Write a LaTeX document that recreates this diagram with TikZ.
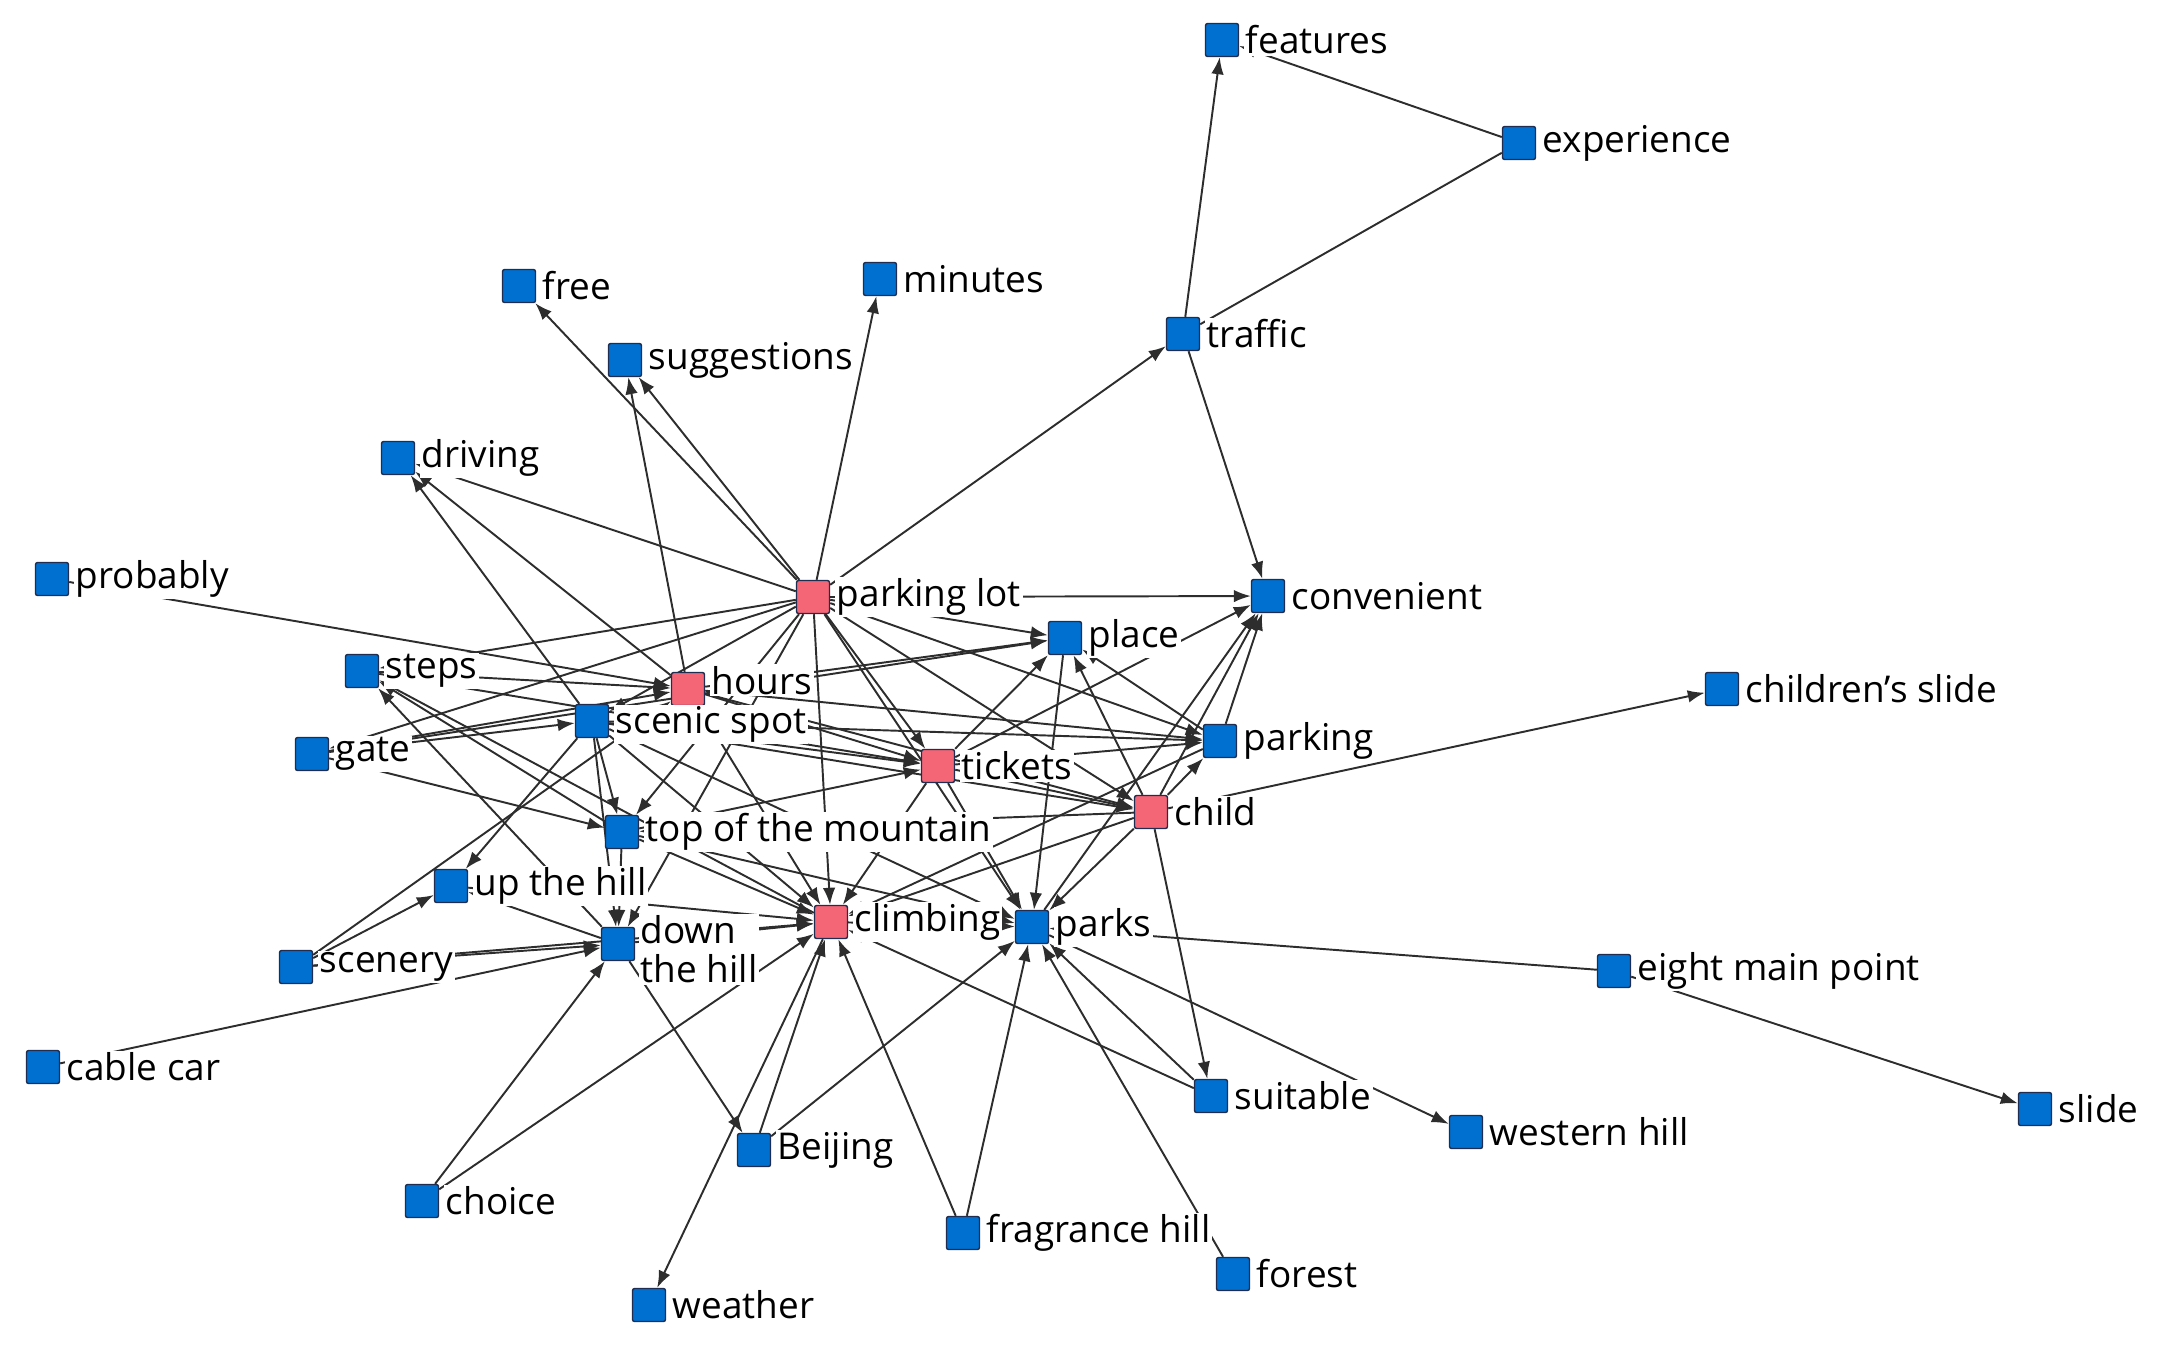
\documentclass[tikz,border=0pt]{standalone}
\usepackage{fontspec}
\setmainfont{Open Sans}
\usepackage{tikz}
\usetikzlibrary{arrows.meta,backgrounds}
\definecolor{termblue}{RGB}{0,112,208}
\definecolor{termpink}{RGB}{244,102,118}
\definecolor{termline}{RGB}{30,45,80}
\definecolor{linkgray}{RGB}{45,45,45}

\begin{document}
\begin{tikzpicture}[x=0.01cm,y=-0.01cm,>={Latex[length=1.7mm,width=1.25mm]},
  term/.style={draw=termline,fill=termblue,rounded corners=0.6pt,minimum size=3.3mm,inner sep=0pt,line width=0.4pt},
  key/.style={term,fill=termpink},
  lbl/.style={fill=white,inner sep=0.5pt,font=\fontsize{10.5}{11}\selectfont},
  every label/.style={label distance=1.2pt},
  link/.style={->,draw=linkgray,line width=0.55pt}]
\useasboundingbox (0,0) rectangle (2157,1350);

% terms
\node[term,label={[lbl]right:features}] (features) at (1222,40) {};
\node[term,label={[lbl]right:experience}] (experience) at (1519,143) {};
\node[term,label={[lbl]right:free}] (free) at (519,286) {};
\node[term,label={[lbl]right:minutes}] (minutes) at (880,279) {};
\node[term,label={[lbl]right:traffic}] (traffic) at (1183,334) {};
\node[term,label={[lbl]right:suggestions}] (suggestions) at (625,360) {};
\node[term,label={[lbl]right:driving}] (driving) at (398,458) {};
\node[term,label={[lbl]right:probably}] (probably) at (52,579) {};
\node[key,label={[lbl]right:parking lot}] (parkinglot) at (813,597) {};
\node[term,label={[lbl]right:convenient}] (convenient) at (1268,596) {};
\node[term,label={[lbl]right:place}] (place) at (1065,638) {};
\node[key,label={[lbl,yshift=2.5pt]right:hours}] (hours) at (688,689) {};
\node[term,label={[lbl]right:steps}] (steps) at (362,671) {};
\node[term,label={[lbl]right:children's slide}] (childslide) at (1722,689) {};
\node[term,label={[lbl,yshift=-1pt]right:scenic spot}] (scenic) at (592,721) {};
\node[term,label={[lbl]right:parking}] (parking) at (1220,741) {};
\node[term,label={[lbl]right:gate}] (gate) at (312,754) {};
\node[key,label={[lbl]right:tickets}] (tickets) at (938,766) {};
\node[key,label={[lbl]right:child}] (child) at (1151,812) {};
\node[term,label={[lbl]right:top of the mountain}] (top) at (622,832) {};
\node[term,label={[lbl]right:up the hill}] (uphill) at (451,886) {};
\node[key,label={[lbl]right:climbing}] (climbing) at (831,922) {};
\node[term,label={[lbl]right:parks}] (parks) at (1032,927) {};
\node[term,label={[lbl,align=left,anchor=north west,yshift=3pt]north east:down\\the hill}] (downhill) at (618,944) {};
\node[term,label={[lbl]right:scenery}] (scenery) at (296,967) {};
\node[term,label={[lbl]right:eight main point}] (eight) at (1614,971) {};
\node[term,label={[lbl]right:cable car}] (cablecar) at (43,1067) {};
\node[term,label={[lbl]right:suitable}] (suitable) at (1211,1096) {};
\node[term,label={[lbl]right:slide}] (slide) at (2035,1109) {};
\node[term,label={[lbl]right:western hill}] (western) at (1466,1132) {};
\node[term,label={[lbl]right:Beijing}] (beijing) at (754,1150) {};
\node[term,label={[lbl]right:choice}] (choice) at (422,1201) {};
\node[term,label={[lbl]right:fragrance hill}] (fragrance) at (963,1233) {};
\node[term,label={[lbl]right:forest}] (forest) at (1233,1274) {};
\node[term,label={[lbl]right:weather}] (weather) at (649,1305) {};

% links, under the labels
\begin{scope}[on background layer]
\draw[link] (traffic)--(features); \draw[link] (experience)--(features);
\draw[link,-] (experience)--(traffic); \draw[link] (parkinglot)--(traffic);
\draw[link] (traffic)--(convenient); \draw[link] (parkinglot)--(convenient);
\draw[link] (parkinglot)--(minutes); \draw[link] (parkinglot)--(free);
\draw[link] (parkinglot)--(suggestions); \draw[link] (hours)--(suggestions);
\draw[link] (parkinglot)--(driving); \draw[link] (scenic)--(driving);
\draw[link] (hours)--(driving); \draw[link] (probably)--(hours);
\draw[link] (parkinglot)--(place); \draw[link] (parkinglot)--(parking);
\draw[link] (parkinglot)--(tickets); \draw[link] (parkinglot)--(child);
\draw[link] (parkinglot)--(climbing); \draw[link] (parkinglot)--(parks);
\draw[link] (parkinglot)--(steps); \draw[link] (parkinglot)--(gate);
\draw[link] (parkinglot)--(scenic); \draw[link] (parkinglot)--(top);
\draw[link] (parkinglot)--(downhill);
\draw[link] (hours)--(place); \draw[link] (gate)--(place);
\draw[link] (hours)--(parking); \draw[link] (hours)--(child);
\draw[link] (hours)--(tickets); \draw[link] (hours)--(climbing);
\draw[link] (steps)--(hours); \draw[link] (gate)--(hours);
\draw[link] (scenery)--(hours); \draw[link] (steps)--(tickets);
\draw[link] (top)--(steps); \draw[link] (downhill)--(steps);
\draw[link] (climbing)--(steps);
\draw[link] (gate)--(scenic); \draw[link] (gate)--(top);
\draw[link] (scenic)--(top); \draw[link] (scenic)--(downhill);
\draw[link] (scenic)--(uphill); \draw[link] (scenic)--(tickets);
\draw[link] (scenic)--(parking); \draw[link] (scenic)--(climbing);
\draw[link] (scenic)--(parks); \draw[link] (scenic)--(child);
\draw[link] (top)--(climbing); \draw[link] (top)--(parks);
\draw[link] (top)--(tickets); \draw[link] (top)--(downhill);
\draw[link] (uphill)--(climbing); \draw[link] (downhill)--(uphill);
\draw[link] (scenery)--(uphill); \draw[link] (scenery)--(downhill);
\draw[link] (cablecar)--(downhill); \draw[link] (choice)--(downhill);
\draw[link] (downhill)--(climbing); \draw[link] (downhill)--(beijing);
\draw[link] (scenery)--(climbing);
\draw[link] (climbing)--(parks); \draw[link] (climbing)--(weather);
\draw[link] (tickets)--(climbing); \draw[link] (child)--(climbing);
\draw[link] (child)--(top); \draw[link] (parking)--(climbing);
\draw[link] (suitable)--(climbing); \draw[link] (fragrance)--(climbing);
\draw[link] (beijing)--(climbing); \draw[link] (choice)--(climbing);
\draw[link] (tickets)--(child); \draw[link] (tickets)--(parks);
\draw[link] (tickets)--(place); \draw[link] (tickets)--(convenient);
\draw[link] (tickets)--(parking);
\draw[link] (child)--(parks); \draw[link] (child)--(place);
\draw[link] (child)--(convenient); \draw[link] (child)--(parking);
\draw[link] (child)--(suitable); \draw[link] (child)--(childslide);
\draw[link] (place)--(parks); \draw[link] (parks)--(convenient);
\draw[link] (parking)--(place); \draw[link] (parking)--(convenient);
\draw[link] (suitable)--(parks); \draw[link] (fragrance)--(parks);
\draw[link] (forest)--(parks); \draw[link] (beijing)--(parks);
\draw[link] (eight)--(parks); \draw[link] (parks)--(western);
\draw[link] (eight)--(slide);
\end{scope}
\end{tikzpicture}
\end{document}
